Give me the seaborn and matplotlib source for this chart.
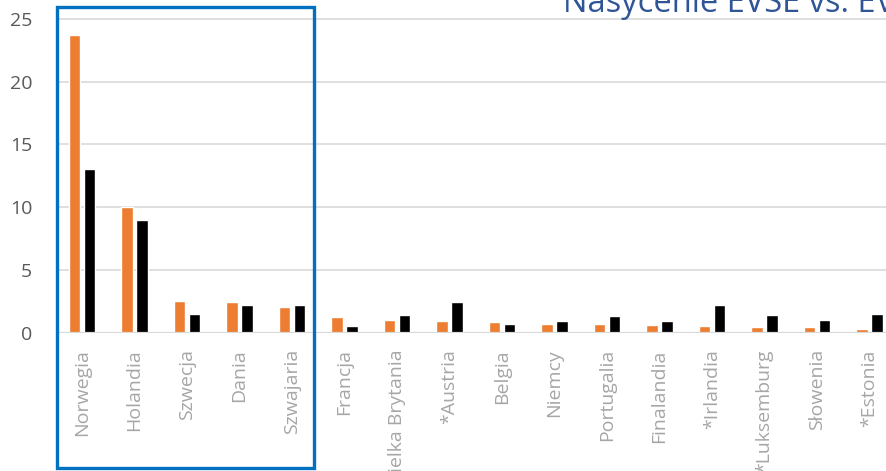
import matplotlib
matplotlib.use("Agg")
import matplotlib.pyplot as plt
import seaborn as sns
import pandas as pd
from matplotlib.patches import Rectangle

countries = ["Norwegia", "Holandia", "Szwecja", "Dania", "Szwajaria", "Francja",
             "Wielka Brytania", "*Austria", "Belgia", "Niemcy", "Portugalia",
             "Finalandia", "*Irlandia", "*Luksemburg", "Słowenia", "*Estonia"]
series_names = ["Seria 1", "Seria 2"]
values_orange = [23.7, 10.0, 2.5, 2.4, 2.0, 1.2, 1.0, 0.9, 0.8, 0.7, 0.7, 0.6, 0.5, 0.4, 0.4, 0.3]
values_black = [13.0, 9.0, 1.5, 2.2, 2.2, 0.5, 1.4, 2.4, 0.7, 0.9, 1.3, 0.9, 2.2, 1.4, 1.0, 1.5]
yticks = [0, 5, 10, 15, 20, 25]
title_text = "Nasycenie EVSE vs. EV"

df = pd.DataFrame({
    "kraj": countries * 2,
    "seria": [series_names[0]] * len(countries) + [series_names[1]] * len(countries),
    "wartosc": values_orange + values_black,
})

sns.set_theme(style="white")
plt.rcParams["font.family"] = ["Open Sans", "DejaVu Sans"]

W, H = 887, 471
fig = plt.figure(figsize=(W / 100, H / 100), dpi=100)
y0 = 332.5
ppu = 12.54
x_left_px = 55.75
ax = fig.add_axes([x_left_px / W, 1 - y0 / H, 1 - x_left_px / W, y0 / H])

sns.barplot(data=df, x="kraj", y="wartosc", hue="seria",
            palette=["#ED7D31", "#000000"], width=0.571, gap=0.22,
            legend=False, ax=ax, saturation=1)

ax.set_xlim(-0.5, (W - 82) / 52.5)
ax.set_ylim(0, y0 / ppu)
ax.set_yticks(yticks)
ax.set_yticklabels([str(t) for t in yticks])
ax.grid(axis="y", color="#D9D9D9", linewidth=1.2)
ax.set_axisbelow(True)
ax.axhline(0, color="#D9D9D9", linewidth=1.6, zorder=1)
for s in ax.spines.values():
    s.set_visible(False)
ax.set_xlabel("")
ax.set_ylabel("")
ax.tick_params(axis="y", length=0, pad=17, labelsize=14, labelcolor="#595959")
ax.tick_params(axis="x", length=0, pad=12, labelsize=14, labelcolor="#A6A6A6")
for lab in ax.get_xticklabels():
    lab.set_rotation(90)
    lab.set_va("top")
    lab.set_ha("center")

fig.text(563 / W, 1 - 12 / H, title_text, color="#2F5597", fontsize=23.5,
         ha="left", va="baseline")

rect = Rectangle((57 / W, 1 - 468 / H), (314 - 57) / W, (468 - 7) / H,
                 transform=fig.transFigure, fill=False, edgecolor="#0070C0",
                 linewidth=2.4, zorder=10)
fig.patches.append(rect)

fig.savefig("out.png", dpi=100)
